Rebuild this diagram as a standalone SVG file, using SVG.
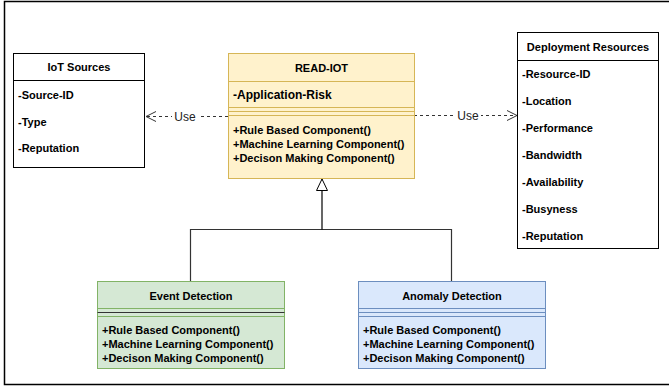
<svg xmlns="http://www.w3.org/2000/svg" width="669" height="389" viewBox="0 0 669 389">
<style>
text{font-family:"Liberation Sans",Arial,sans-serif;font-size:11px;font-weight:bold;fill:#000}
.t{text-anchor:middle}
.lbl{font-weight:normal;font-size:12px;text-anchor:middle;fill:#222}
.big{font-size:12px}
.plain{fill:#fff;stroke:#000;stroke-width:1}
.yel{fill:#fff2cc;stroke:#d6b656;stroke-width:1}
.grn{fill:#d5e8d4;stroke:#82b366;stroke-width:1}
.blu{fill:#dae8fc;stroke:#6c8ebf;stroke-width:1}
.dash{fill:none;stroke:#333;stroke-width:1;stroke-dasharray:3 3}
.solid{fill:none;stroke:#333;stroke-width:1.2}
</style>
<defs>
<marker id="open" markerWidth="12" markerHeight="12" refX="11" refY="6" orient="auto" markerUnits="userSpaceOnUse">
<path d="M1,1 L11,6 L1,11" fill="none" stroke="#333" stroke-width="1"/>
</marker>
<marker id="tri" markerWidth="14" markerHeight="14" refX="12" refY="6" orient="auto" markerUnits="userSpaceOnUse">
<path d="M0.5,0.5 L12,6 L0.5,11.5 Z" fill="#fff" stroke="#000" stroke-width="1"/>
</marker>
</defs>
<rect x="0" y="0" width="669" height="389" fill="#fff"/>
<rect x="4.5" y="1.5" width="670" height="383" fill="none" stroke="#000" stroke-width="1.5"/>

<g id="connectors">
<line class="dash" x1="228" y1="116.5" x2="146" y2="116.5" marker-end="url(#open)"/>
<rect x="172" y="109" width="26" height="14" fill="#fff"/>
<text class="lbl" x="185" y="121">Use</text>
<line class="dash" x1="414" y1="115.5" x2="517" y2="115.5" marker-end="url(#open)"/>
<rect x="455" y="108" width="26" height="14" fill="#fff"/>
<text class="lbl" x="468" y="120">Use</text>
<path class="solid" d="M190.5,281 V229.5 H451.5 V281"/>
<path d="M322,229.5 V179" fill="none" stroke="#000" stroke-width="1.2" marker-end="url(#tri)"/>
</g>

<g id="iot-sources">
<rect class="plain" x="13.5" y="53.5" width="131" height="114"/>
<line x1="13.5" y1="80.5" x2="144.5" y2="80.5" stroke="#000"/>
<text class="t" x="79" y="71">IoT Sources</text>
<text x="18" y="99">-Source-ID</text>
<text x="18" y="125.5">-Type</text>
<text x="18" y="152">-Reputation</text>
</g>

<g id="read-iot">
<rect class="yel" x="228.5" y="53.5" width="186" height="125"/>
<line x1="228.5" y1="81.5" x2="414.5" y2="81.5" stroke="#d6b656"/>
<line x1="228.5" y1="107.5" x2="414.5" y2="107.5" stroke="#d6b656"/>
<line x1="228.5" y1="111.5" x2="414.5" y2="111.5" stroke="#d6b656"/>
<line x1="228.5" y1="115.5" x2="414.5" y2="115.5" stroke="#d6b656"/>
<text class="t" x="321.5" y="71.5">READ-IOT</text>
<text class="big" x="233" y="98.5">-Application-Risk</text>
<text x="233" y="134">+Rule Based Component()</text>
<text x="233" y="148">+Machine Learning Component()</text>
<text x="233" y="162">+Decison Making Component()</text>
</g>

<g id="deployment-resources">
<rect class="plain" x="517.5" y="32.5" width="141" height="216"/>
<line x1="517.5" y1="60.5" x2="658.5" y2="60.5" stroke="#000"/>
<text class="t" x="588" y="50.5">Deployment Resources</text>
<text x="522" y="78">-Resource-ID</text>
<text x="522" y="105">-Location</text>
<text x="522" y="132">-Performance</text>
<text x="522" y="159">-Bandwidth</text>
<text x="522" y="186">-Availability</text>
<text x="522" y="212.5">-Busyness</text>
<text x="522" y="239.5">-Reputation</text>
</g>

<g id="event-detection">
<rect class="grn" x="97.5" y="281.5" width="187" height="87"/>
<line x1="97.5" y1="308.5" x2="284.5" y2="308.5" stroke="#82b366"/>
<line x1="97.5" y1="312.5" x2="284.5" y2="312.5" stroke="#333"/>
<line x1="97.5" y1="316.5" x2="284.5" y2="316.5" stroke="#82b366"/>
<text class="t" x="191" y="299.5">Event Detection</text>
<text x="102" y="334">+Rule Based Component()</text>
<text x="102" y="348">+Machine Learning Component()</text>
<text x="102" y="362">+Decison Making Component()</text>
</g>

<g id="anomaly-detection">
<rect class="blu" x="358.5" y="281.5" width="187" height="87"/>
<line x1="358.5" y1="308.5" x2="545.5" y2="308.5" stroke="#6c8ebf"/>
<line x1="358.5" y1="312.5" x2="545.5" y2="312.5" stroke="#6c8ebf"/>
<line x1="358.5" y1="316.5" x2="545.5" y2="316.5" stroke="#6c8ebf"/>
<text class="t" x="452" y="299.5">Anomaly Detection</text>
<text x="363" y="334">+Rule Based Component()</text>
<text x="363" y="348">+Machine Learning Component()</text>
<text x="363" y="362">+Decison Making Component()</text>
</g>
</svg>
